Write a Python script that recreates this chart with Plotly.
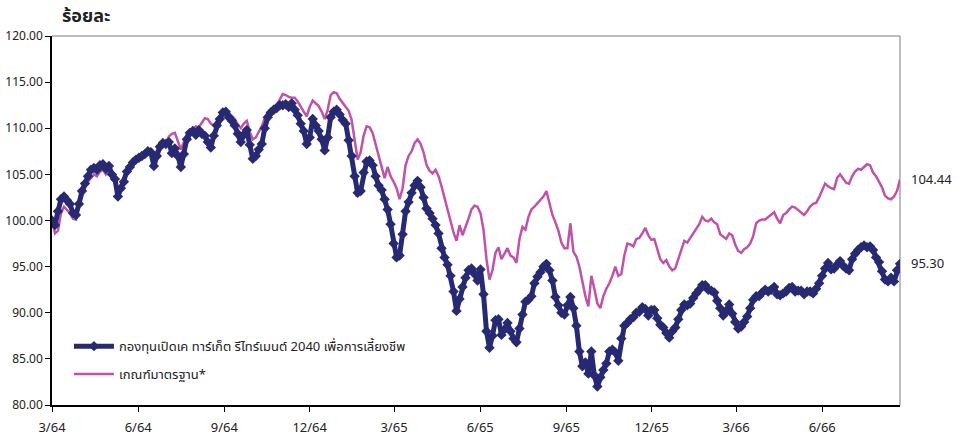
import plotly.graph_objects as go
import pandas as pd

# ---- data ----
start_date = "2021-03-01"
end_date = "2023-08-23"

fund_name = "กองทุนเปิดเค ทาร์เก็ต รีไทร์เมนต์ 2040 เพื่อการเลี้ยงชีพ"
bench_name = "เกณฑ์มาตรฐาน*"

fund = [
    100.0, 99.5, 101.0, 102.3, 102.6, 102.2, 101.8, 100.8, 100.6, 101.8,
    103.2, 104.0, 104.8, 105.5, 105.7, 105.5, 106.0, 106.1, 105.6, 105.9,
    105.0, 104.5, 102.6, 103.5, 104.2, 105.3, 105.8, 106.3, 106.6, 106.8,
    107.0, 107.2, 107.5, 107.4, 105.9, 107.0, 108.0, 108.4, 108.3, 108.5,
    107.3, 107.8, 107.0, 105.8, 107.2, 108.8, 109.5, 109.7, 109.3, 109.8,
    109.4, 109.2, 108.5, 107.9, 109.2, 110.3, 111.0, 111.7, 111.8, 111.2,
    110.8, 110.3, 109.4, 108.5, 109.3, 109.8, 108.2, 106.7, 107.0, 107.7,
    108.3, 110.0, 111.2, 111.7, 112.0, 112.2, 112.5, 112.5, 112.6, 112.3,
    112.7, 112.0, 111.4, 110.5, 109.7, 108.3, 109.0, 111.0, 110.3, 109.7,
    108.8, 107.6, 109.0, 111.2, 111.8, 112.0, 111.5, 110.9, 110.5, 108.7,
    107.0, 104.8, 103.0, 103.2, 105.2, 106.4, 106.5, 106.0, 104.8, 103.8,
    103.3, 102.3, 101.2, 99.6, 97.5, 96.0, 96.2, 98.5, 101.0, 102.0,
    103.0, 103.8, 104.3, 103.6, 102.5, 101.3, 100.8, 100.2, 99.5, 98.6,
    97.0, 96.0, 95.2, 94.0, 92.3, 90.2, 91.5, 92.8, 93.8, 94.6,
    94.8, 94.2, 93.5, 94.7, 92.0, 88.0, 86.2, 87.5, 89.2, 89.3,
    87.6, 88.2, 88.9, 88.0, 87.2, 86.8, 88.3, 89.8, 91.2, 91.4,
    91.8, 93.2, 93.9, 94.4, 95.0, 95.3, 94.6, 93.5, 91.7, 90.8,
    90.0, 89.8, 90.8, 91.7, 90.5, 88.6, 85.8, 84.2, 84.6, 83.4,
    85.8, 83.2, 82.0, 83.0, 83.8, 84.5, 85.8, 86.0, 85.7, 84.8,
    87.2, 88.6, 88.9, 89.3, 89.5, 90.0, 90.1, 90.6, 90.4, 89.7,
    90.3, 90.3, 89.4, 88.7, 88.4, 87.8, 87.3, 88.0, 88.4, 89.3,
    90.3, 90.9, 90.8, 91.0, 91.6, 92.1, 92.5, 93.0, 93.0, 92.5,
    92.4, 92.2, 91.3, 90.5, 89.7, 90.2, 90.9, 89.9, 89.0, 88.3,
    88.5, 89.0, 89.6, 90.5, 91.4, 91.8, 91.8, 92.2, 92.5, 92.3,
    92.5, 92.8, 92.0, 91.9, 92.1, 92.3, 92.7, 92.8, 92.3, 92.4,
    92.4, 92.0, 92.3, 92.3, 92.1, 92.6, 93.2, 94.0, 94.8, 95.4,
    94.7, 94.8, 95.2, 95.6, 95.1, 94.8, 94.6, 95.8, 96.4, 96.8,
    97.1, 97.3, 97.1, 97.2, 96.8, 96.0, 95.5, 94.5, 93.6, 93.4,
    93.8, 93.4, 94.6, 95.30,
]

bench = [
    100.0, 98.6, 98.9, 100.8, 101.5, 101.2, 100.8, 100.2, 100.1, 101.6,
    102.6, 103.5, 104.2, 104.6, 105.0, 104.8, 105.3, 105.5, 105.0, 105.4,
    105.2, 104.6, 103.1, 103.8, 104.5, 105.2, 105.8, 106.3, 106.5, 106.7,
    106.9, 107.2, 107.6, 107.7, 106.8, 107.6, 108.2, 108.6, 108.4, 109.1,
    109.4, 109.5, 108.7, 107.7, 108.5, 109.4, 109.7, 109.9, 110.2, 110.1,
    110.6, 111.1, 111.0, 110.5, 110.3, 110.8, 111.4, 111.8, 112.0, 111.7,
    111.3, 111.0, 110.4, 110.0, 110.5, 110.8, 109.6, 108.8, 109.0, 109.6,
    110.2, 111.1, 111.7, 112.0, 112.3, 112.6, 113.1, 113.7, 113.6, 113.4,
    113.3, 113.3, 112.9, 112.3, 111.8, 111.3, 112.3, 113.0, 112.7, 112.4,
    111.8, 111.0, 112.0, 113.6, 113.9, 113.8, 113.2, 112.8, 112.4, 111.9,
    110.9, 108.5, 106.6, 107.4, 109.2, 110.2, 110.1, 109.5, 108.2, 107.1,
    105.8, 104.6, 105.8, 104.8, 104.2, 103.5, 102.3, 103.5, 106.0, 107.0,
    107.5, 108.4, 108.8, 108.3, 107.4, 106.0, 105.4, 105.1, 105.5, 104.8,
    103.7, 102.4, 101.2, 100.0, 98.7, 97.8, 99.5, 98.4, 99.2, 100.2,
    101.2, 101.6, 101.5, 100.8, 99.0, 95.8, 93.6, 94.6, 96.5, 97.1,
    95.8, 96.4, 97.0, 96.2, 96.0, 95.4, 98.0, 99.3, 99.0, 100.4,
    101.2, 101.5, 101.9, 102.2, 102.6, 103.2, 101.8, 100.6, 99.8, 98.9,
    97.6, 97.0, 97.0, 99.7, 96.6, 96.1, 95.0, 93.2, 91.8, 90.7,
    94.0, 92.6, 91.0, 90.5, 91.8, 92.6, 93.2, 94.0, 95.0, 94.0,
    94.2, 96.2, 97.5, 97.4, 97.2, 98.0, 98.1, 98.6, 99.2, 98.4,
    97.9, 98.0, 96.8, 95.8, 95.4, 95.7, 95.0, 94.6, 94.8, 95.8,
    96.9, 97.8, 97.6, 98.1, 98.7, 99.1, 99.6, 100.4, 100.0, 99.9,
    100.2, 99.8, 99.6, 98.5, 98.2, 98.0, 98.6, 98.4, 97.4, 96.7,
    96.5, 96.9, 97.1, 97.5, 98.3, 99.7, 100.0, 100.1, 100.1, 100.4,
    100.7, 100.9, 100.2, 99.7, 100.6, 100.8, 101.2, 101.5, 101.4, 101.1,
    100.9, 100.6, 101.0, 101.5, 101.8, 101.9, 102.5, 103.3, 104.0, 103.7,
    103.5, 103.4, 104.6, 105.0, 104.5, 104.1, 104.0, 104.8, 105.3, 105.6,
    105.5, 105.8, 106.1, 106.0, 105.2, 104.8, 104.2, 103.6, 102.7, 102.4,
    102.3, 102.6, 103.2, 104.44,
]

tick_dates = ["2021-03-01", "2021-06-01", "2021-09-01", "2021-12-01", "2022-03-01",
              "2022-06-01", "2022-09-01", "2022-12-01", "2023-03-01", "2023-06-01"]
tick_labels = ["3/64", "6/64", "9/64", "12/64", "3/65", "6/65", "9/65", "12/65", "3/66", "6/66"]

y_ticks = [80, 85, 90, 95, 100, 105, 110, 115, 120]

dates = pd.date_range(start_date, end_date, periods=len(fund))

NAVY = "#272A72"
PINK = "#C052A8"
FONT = "Noto Sans Thai, Tahoma, Noto Sans, DejaVu Sans, sans-serif"

fig = go.Figure()
fig.add_trace(go.Scatter(
    x=dates, y=bench, name=bench_name, mode="lines",
    line=dict(color=PINK, width=2.5), legendgroup="b", legendrank=2,
))
fig.add_trace(go.Scatter(
    x=dates, y=fund, name=fund_name, mode="lines+markers",
    line=dict(color=NAVY, width=5),
    marker=dict(symbol="diamond", size=8, color=NAVY),
    legendgroup="a", legendrank=1,
))

fig.add_annotation(x=dates[-1], y=bench[-1], text=f"{bench[-1]:.2f}", xref="x", yref="y",
                   xanchor="left", yanchor="middle", xshift=9, showarrow=False,
                   font=dict(size=13, color="#222", family=FONT))
fig.add_annotation(x=dates[-1], y=fund[-1], text=f"{fund[-1]:.2f}", xref="x", yref="y",
                   xanchor="left", yanchor="middle", xshift=9, showarrow=False,
                   font=dict(size=13, color="#222", family=FONT))
fig.add_annotation(x=0, y=1, xref="paper", yref="paper", xshift=8, yshift=4,
                   text="<b>ร้อยละ</b>", showarrow=False, xanchor="left", yanchor="bottom",
                   font=dict(size=18, color="#222", family=FONT))

# gray top/right frame
fig.add_shape(type="line", xref="paper", yref="paper", x0=0, x1=1, y0=1, y1=1,
              line=dict(color="#A6A6A6", width=1.5), layer="below")
fig.add_shape(type="line", xref="paper", yref="paper", x0=1, x1=1, y0=0, y1=1,
              line=dict(color="#A6A6A6", width=1.5), layer="below")

fig.update_layout(
    width=961, height=439, autosize=False,
    margin=dict(l=52, r=61, t=36, b=34, autoexpand=False),
    paper_bgcolor="white", plot_bgcolor="white",
    font=dict(family=FONT, size=13, color="#222"),
    showlegend=True,
    legend=dict(x=0.02, y=0.2, xanchor="left", yanchor="top",
                bgcolor="rgba(0,0,0,0)", traceorder="grouped", tracegroupgap=8,
                font=dict(size=13, color="#222"), itemwidth=40),
    xaxis=dict(type="date", range=[start_date, end_date], tickvals=tick_dates,
               ticktext=tick_labels, ticks="outside", ticklen=5, tickcolor="black",
               showline=True, linecolor="black", linewidth=1.5, showgrid=False,
               zeroline=False, tickfont=dict(size=13), automargin=False,
               ticklabelstandoff=5),
    yaxis=dict(range=[80, 120], tickvals=y_ticks, tickformat=".2f", ticks="outside",
               ticklen=5, tickcolor="black", showline=True, linecolor="black",
               linewidth=1.5, showgrid=False, zeroline=False, tickfont=dict(size=12),
               automargin=False),
)

# remove the default page margin so the figure fills the window exactly
fig.write_html("out.html", config={"displayModeBar": False},
               post_script="document.body.style.margin='0';")
